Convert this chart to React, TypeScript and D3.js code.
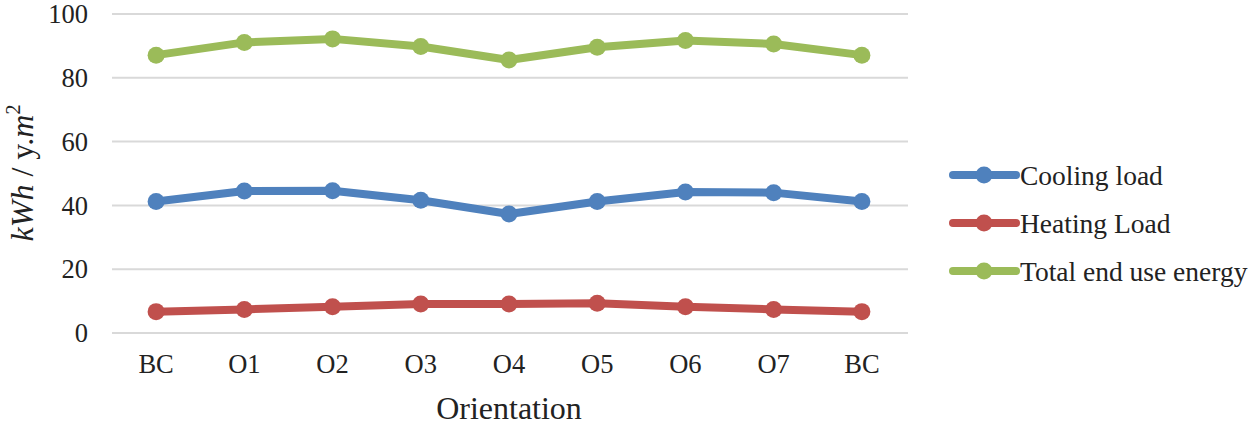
import React from "react";
import * as d3 from "d3";

const categories = ["BC", "O1", "O2", "O3", "O4", "O5", "O6", "O7", "BC "];
const coolingLoad = [41.2, 44.5, 44.6, 41.6, 37.3, 41.2, 44.2, 44.0, 41.2];
const heatingLoad = [6.7, 7.4, 8.2, 9.1, 9.1, 9.3, 8.2, 7.4, 6.7];
const totalEnergy = [87.1, 91.1, 92.2, 89.8, 85.6, 89.6, 91.7, 90.6, 87.1];
const yTicks = [0, 20, 40, 60, 80, 100];

const seriesNames = ["Cooling load", "Heating Load", "Total end use energy"];
const seriesColors = ["#4F81BD", "#C0504D", "#9BBB59"];
const seriesData = [coolingLoad, heatingLoad, totalEnergy];

const FONT = "Liberation Serif, Times New Roman, serif";

export default function App() {
  const W = 1250, H = 428;
  const x = d3.scaleBand<string>().domain(categories).range([112, 906]);
  const y = d3.scaleLinear().domain([0, 100]).range([333, 14]);
  const cx = (i: number) => (x(categories[i]) as number) + x.bandwidth() / 2;
  const line = d3.line<number>().x((_, i) => cx(i)).y((d) => y(d));
  const ts = { fontFamily: FONT };

  return (
    <svg width={W} height={H} style={{ position: "absolute", left: 0, top: 0, background: "#fff", fontFamily: FONT }}>
      {yTicks.map((t) => (
        <g key={t}>
          <line x1={112} x2={908} y1={y(t)} y2={y(t)} stroke="#d9d9d9" strokeWidth={2} />
          <text x={88} y={y(t)} dy="0.35em" textAnchor="end" fontSize={26.5} fill="#222" style={ts}>{t}</text>
        </g>
      ))}
      {categories.map((c, i) => (
        <text key={i} x={cx(i)} y={373} textAnchor="middle" fontSize={26.5} fill="#222" style={ts}>{c.trim()}</text>
      ))}
      <text x={509} y={419} textAnchor="middle" fontSize={32} fill="#222" style={ts}>Orientation</text>
      <text transform="translate(33,173) rotate(-90)" textAnchor="middle" fontSize={32} fill="#222" style={ts}>
        <tspan fontStyle="italic">kWh</tspan>
        <tspan> / y.</tspan>
        <tspan fontStyle="italic">m</tspan>
        <tspan fontSize={20} dy={-13}>2</tspan>
      </text>
      {seriesData.map((data, s) => (
        <g key={s}>
          <path d={line(data) || ""} fill="none" stroke={seriesColors[s]} strokeWidth={8} strokeLinejoin="round" />
          {data.map((v, i) => (
            <circle key={i} cx={cx(i)} cy={y(v)} r={8.5} fill={seriesColors[s]} />
          ))}
        </g>
      ))}
      {seriesNames.map((n, s) => {
        const ly = 175 + s * 48;
        return (
          <g key={n}>
            <line x1={953} x2={1016} y1={ly} y2={ly} stroke={seriesColors[s]} strokeWidth={8} strokeLinecap="round" />
            <circle cx={984} cy={ly} r={8.5} fill={seriesColors[s]} />
            <text x={1020} y={ly} dy="0.35em" fontSize={27.5} fill="#222" style={ts}>{n}</text>
          </g>
        );
      })}
    </svg>
  );
}
